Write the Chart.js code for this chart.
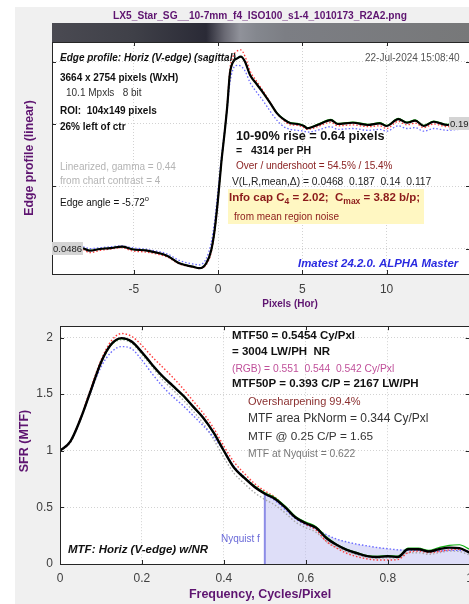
<!DOCTYPE html>
<html>
<head>
<meta charset="utf-8">
<script src="https://cdn.jsdelivr.net/npm/chart.js@4.4.1/dist/chart.umd.min.js"></script>
<style>
  html, body { margin: 0; padding: 0; background: #fff; overflow: hidden; width: 469px; height: 604px; }
  #fig { position: absolute; left: 15px; top: 7px; width: 470px; height: 600px; background: #f0f0f0; }
  .wrap { position: absolute; left: 0; }
</style>
</head>
<body>
<div id="fig"></div>
<div class="wrap" style="top:0"><canvas id="edgeChart" width="480" height="312"></canvas></div>
<div class="wrap" style="top:312px"><canvas id="mtfChart" width="480" height="292"></canvas></div>
<script>
// ---- Edge profile (top panel), pixels vs linear signal
const edgeX = [-8.0, -7.6, -7.0, -6.4, -5.7, -5.1, -4.2, -3.0, -2.3, -1.5, -1.1, -0.7, -0.4, -0.2, 0.0, 0.2, 0.4, 0.55, 0.7, 0.9,
  1.15, 1.35, 1.6, 1.9, 2.3, 2.7, 3.1, 3.5, 3.9, 4.3, 4.7, 5.1, 5.3, 5.9, 6.7, 7.1, 8.0, 8.9, 9.6, 10.0,
  10.7, 11.2, 11.7, 12.2, 12.8, 13.6, 14.3, 15.0];
const edgeBlack = [0.0494, 0.0467, 0.0486, 0.0495, 0.0512, 0.0483, 0.0467, 0.0409, 0.0328, 0.0290, 0.0273, 0.0328, 0.0475, 0.0697, 0.1040, 0.1450, 0.1790, 0.2070, 0.2420, 0.2560,
  0.2597, 0.2615, 0.2560, 0.2412, 0.2310, 0.2210, 0.2100, 0.1988, 0.1920, 0.1878, 0.1870, 0.1848, 0.1822, 0.1859, 0.1914, 0.1870, 0.1884, 0.1859, 0.1878, 0.1848,
  0.1925, 0.1884, 0.1907, 0.1848, 0.1895, 0.1859, 0.1880, 0.1870];
const edgeRed = [0.0480, 0.0445, 0.0470, 0.0485, 0.0500, 0.0465, 0.0450, 0.0395, 0.0320, 0.0285, 0.0270, 0.0310, 0.0450, 0.0670, 0.1020, 0.1440, 0.1800, 0.2100, 0.2470, 0.2620,
  0.2680, 0.2690, 0.2620, 0.2460, 0.2340, 0.2230, 0.2110, 0.1990, 0.1910, 0.1860, 0.1855, 0.1830, 0.1810, 0.1840, 0.1890, 0.1850, 0.1860, 0.1840, 0.1850, 0.1820,
  0.1900, 0.1860, 0.1880, 0.1830, 0.1870, 0.1840, 0.1860, 0.1850];
const edgeGreen = [0.0496, 0.0470, 0.0488, 0.0497, 0.0513, 0.0485, 0.0468, 0.0410, 0.0330, 0.0291, 0.0272, 0.0326, 0.0472, 0.0694, 0.1035, 0.1448, 0.1792, 0.2075, 0.2425, 0.2565,
  0.2600, 0.2617, 0.2562, 0.2415, 0.2313, 0.2213, 0.2102, 0.1992, 0.1925, 0.1885, 0.1876, 0.1854, 0.1828, 0.1866, 0.1922, 0.1876, 0.1892, 0.1866, 0.1885, 0.1854,
  0.1933, 0.1891, 0.1915, 0.1855, 0.1902, 0.1866, 0.1886, 0.1876];
const edgeBlue = [0.0510, 0.0490, 0.0500, 0.0510, 0.0520, 0.0500, 0.0480, 0.0430, 0.0360, 0.0320, 0.0310, 0.0380, 0.0560, 0.0800, 0.1140, 0.1500, 0.1810, 0.2050, 0.2320, 0.2480,
  0.2520, 0.2510, 0.2460, 0.2330, 0.2220, 0.2120, 0.2010, 0.1910, 0.1840, 0.1810, 0.1800, 0.1790, 0.1780, 0.1800, 0.1840, 0.1810, 0.1820, 0.1800, 0.1810, 0.1790,
  0.1850, 0.1820, 0.1830, 0.1790, 0.1820, 0.1800, 0.1810, 0.1810];
const edgeGridY = [0.0486, 0.1178, 0.1870, 0.2562];
const edgeLeftLevel = '0.0486';
const edgeRightLevel = '0.19';

// ---- MTF (bottom panel), cycles/pixel vs SFR
const freq = [0, 0.025, 0.05, 0.075, 0.1, 0.125, 0.15, 0.175, 0.2, 0.225, 0.25, 0.275, 0.3, 0.325, 0.35, 0.375, 0.4, 0.425, 0.45, 0.475,
  0.5, 0.525, 0.55, 0.575, 0.6, 0.625, 0.65, 0.675, 0.7, 0.725, 0.75, 0.775, 0.8, 0.825, 0.85, 0.875, 0.9, 0.925, 0.95, 0.975, 1.0];
const mtfBlack = [1.00, 1.08, 1.28, 1.53, 1.78, 1.94, 1.995, 1.965, 1.87, 1.76, 1.66, 1.575, 1.49, 1.39, 1.29, 1.16, 1.00, 0.85, 0.76, 0.68,
  0.62, 0.575, 0.50, 0.41, 0.36, 0.32, 0.23, 0.17, 0.125, 0.095, 0.07, 0.062, 0.068, 0.063, 0.13, 0.13, 0.11, 0.13, 0.145, 0.14, 0.10];
const mtfRed = [1.00, 1.08, 1.29, 1.55, 1.80, 1.97, 2.035, 2.01, 1.93, 1.83, 1.74, 1.65, 1.55, 1.44, 1.33, 1.20, 1.04, 0.90, 0.80, 0.71,
  0.645, 0.59, 0.50, 0.41, 0.35, 0.30, 0.20, 0.14, 0.095, 0.065, 0.045, 0.035, 0.035, 0.04, 0.10, 0.115, 0.10, 0.11, 0.125, 0.13, 0.11];
const mtfGreen = [1.00, 1.08, 1.28, 1.53, 1.78, 1.935, 1.99, 1.96, 1.865, 1.755, 1.655, 1.57, 1.485, 1.385, 1.285, 1.155, 0.995, 0.85, 0.765, 0.69,
  0.63, 0.585, 0.51, 0.42, 0.37, 0.33, 0.24, 0.175, 0.13, 0.10, 0.075, 0.068, 0.075, 0.07, 0.14, 0.14, 0.12, 0.145, 0.165, 0.17, 0.13];
const mtfBlue = [1.00, 1.08, 1.28, 1.52, 1.74, 1.87, 1.92, 1.90, 1.80, 1.68, 1.57, 1.48, 1.40, 1.31, 1.22, 1.12, 1.00, 0.86, 0.77, 0.69,
  0.62, 0.56, 0.48, 0.40, 0.345, 0.31, 0.26, 0.22, 0.195, 0.175, 0.16, 0.145, 0.135, 0.125, 0.12, 0.12, 0.115, 0.115, 0.12, 0.12, 0.115];
const mtfGray = [1.00, 1.07, 1.27, 1.52, 1.77, 1.93, 1.98, 1.95, 1.85, 1.74, 1.63, 1.54, 1.45, 1.35, 1.24, 1.10, 0.94, 0.80, 0.71, 0.63,
  0.57, 0.52, 0.45, 0.37, 0.32, 0.28, 0.20, 0.15, 0.11, 0.08, 0.06, 0.05, 0.055, 0.05, 0.10, 0.10, 0.085, 0.10, 0.115, 0.11, 0.08];
const nyquistF = 0.5;
const mtfAtNyquist = 0.622;

(function () {
  const FONT = '"Liberation Sans", Arial, Helvetica, sans-serif';
  const PURPLE = '#5e1470';
  const font = (size, weight, style) => `${style || 'normal'} ${weight || 'normal'} ${size}px ${FONT}`;
  const pts = (xs, ys) => xs.map((x, i) => ({ x, y: ys[i] }));
  const plainNum = (v) => String(+Number(v).toFixed(3));

  function text(ctx, s, x, y, fnt, color, align) {
    ctx.font = fnt; ctx.fillStyle = color; ctx.textAlign = align || 'left'; ctx.textBaseline = 'middle';
    ctx.fillText(s, x, y);
  }
  // pieces of text on one baseline (for sub/superscripts)
  function runs(ctx, x, y, parts) {
    ctx.textAlign = 'left'; ctx.textBaseline = 'middle';
    parts.forEach(([s, fnt, color, dy]) => {
      ctx.font = fnt; ctx.fillStyle = color;
      ctx.fillText(s, x, y + (dy || 0));
      x += ctx.measureText(s).width;
    });
  }
  function vtext(ctx, s, x, y, fnt, color) {
    ctx.save(); ctx.translate(x, y); ctx.rotate(-Math.PI / 2);
    text(ctx, s, 0, 0, fnt, color, 'center'); ctx.restore();
  }

  // white plot box, then inward ticks + frame afterwards (matlab look)
  const framePlugin = {
    id: 'frame',
    beforeDraw(chart) {
      const { ctx, chartArea: a } = chart;
      ctx.save(); ctx.fillStyle = '#fff';
      ctx.fillRect(a.left, a.top, a.right - a.left, a.bottom - a.top);
      ctx.restore();
    },
    afterDatasetsDraw(chart) {
      const { ctx, chartArea: a, scales } = chart;
      ctx.save();
      ctx.strokeStyle = '#262626'; ctx.lineWidth = 1;
      ctx.beginPath();
      scales.x.ticks.forEach((t) => {
        const p = Math.round(scales.x.getPixelForValue(t.value)) + 0.5;
        ctx.moveTo(p, a.bottom); ctx.lineTo(p, a.bottom - 4);
        ctx.moveTo(p, a.top); ctx.lineTo(p, a.top + 4);
      });
      scales.y.ticks.forEach((t) => {
        const p = Math.round(scales.y.getPixelForValue(t.value)) + 0.5;
        ctx.moveTo(a.left, p); ctx.lineTo(a.left + 4, p);
        ctx.moveTo(a.right, p); ctx.lineTo(a.right - 4, p);
      });
      ctx.stroke();
      ctx.strokeRect(Math.round(a.left) + 0.5, Math.round(a.top) + 0.5, Math.round(a.right - a.left), Math.round(a.bottom - a.top));
      ctx.restore();
    }
  };

  const gridOpts = { color: '#d2d2d2', drawTicks: false, lineWidth: 1 };
  const borderOpts = { display: true, color: '#262626', dash: [1, 2] };

  // ---------------- top: edge profile
  const edgeText = {
    id: 'edgeText',
    afterDraw(chart) {
      const { ctx, chartArea: a, scales } = chart;
      ctx.save();
      // file name
      text(ctx, 'LX5_Star_SG__10-7mm_f4_ISO100_s1-4_1010173_R2A2.png', 260, 16, font(10.2, 'bold'), PURPLE, 'center');
      // edge image strip above the plot
      const sx = scales.x;
      const g = ctx.createLinearGradient(a.left, 0, a.right, 0);
      const stop = (v, c) => g.addColorStop(Math.min(1, Math.max(0, (sx.getPixelForValue(v) - a.left) / (a.right - a.left))), c);
      stop(-9.85, '#4a4a52'); stop(-5, '#3f4048'); stop(-0.7, '#2a2a36'); stop(0.4, '#6a6a74');
      stop(1.3, '#90929a'); stop(2.3, '#84878e'); stop(4, '#7c7e84'); stop(14.95, '#777879');
      ctx.fillStyle = g;
      ctx.fillRect(a.left, 23, a.right - a.left, a.top - 23);

      text(ctx, 'Edge profile: Horiz (V-edge) (sagittal)', 60, 58, font(10, 'bold', 'italic'), '#111');
      text(ctx, '22-Jul-2024 15:08:40', 365, 58, font(10), '#555');
      text(ctx, '3664 x 2754 pixels (WxH)', 60, 78, font(10, 'bold'), '#111');
      text(ctx, '10.1 Mpxls   8 bit', 66, 93, font(10), '#333');
      text(ctx, 'ROI:  104x149 pixels', 60, 111, font(10, 'bold'), '#111');
      text(ctx, '26% left of ctr', 60, 127, font(10, 'bold'), '#111');
      text(ctx, 'Linearized, gamma = 0.44', 60, 167, font(10), '#b4b4b4');
      text(ctx, 'from chart contrast = 4', 60, 181, font(10), '#b4b4b4');
      runs(ctx, 60, 203, [['Edge angle = -5.72', font(10), '#111'], ['o', font(7.5), '#111', -4]]);

      // level markers
      const yl = scales.y.getPixelForValue(edgeBlack[2]);
      ctx.fillStyle = '#d4d4d4'; ctx.fillRect(a.left, yl - 7, 31, 13);
      text(ctx, edgeLeftLevel, a.left + 1, yl, font(9.5), '#222');
      const yr = scales.y.getPixelForValue(0.187);
      ctx.fillStyle = '#d4d4d4'; ctx.fillRect(449, yr - 7, 25, 13);
      text(ctx, edgeRightLevel, 450, yr, font(9.5), '#222');

      text(ctx, '10-90% rise = 0.64 pixels', 236, 136, font(12.7, 'bold'), '#111');
      text(ctx, '=   4314 per PH', 236, 151, font(10.5, 'bold'), '#111');
      text(ctx, 'Over / undershoot = 54.5% / 15.4%', 236, 166, font(10), '#8b2323');
      text(ctx, 'V(L,R,mean,\u0394) = 0.0468  0.187  0.14  0.117', 232, 182, font(10.3), '#222');
      ctx.fillStyle = '#fff7c2'; ctx.fillRect(228, 189, 196, 35);
      const ic = font(11.5, 'bold'), sub = font(8.5, 'bold'), red = '#8b1a1a';
      runs(ctx, 229, 198, [['Info cap C', ic, red], ['4', sub, red, 4], [' = 2.02;  C', ic, red], ['max', sub, red, 4], [' = 3.82 b/p;', ic, red]]);
      text(ctx, 'from mean region noise', 234, 217, font(10), red);
      text(ctx, 'Imatest 24.2.0. ALPHA Master', 298, 264, font(11.4, 'bold', 'italic'), '#2a2ae0');

      text(ctx, 'Pixels (Hor)', 290, 304, font(10, 'bold'), PURPLE, 'center');
      vtext(ctx, 'Edge profile (linear)', 30, 158, font(12.3, 'bold'), PURPLE);
      ctx.restore();
    }
  };

  new Chart(document.getElementById('edgeChart'), {
    type: 'line',
    data: {
      datasets: [
        { data: pts(edgeX, edgeBlack), borderColor: '#000', borderWidth: 2.2 },
        { data: pts(edgeX, edgeGreen), borderColor: '#10b010', borderWidth: 1.2 },
        { data: pts(edgeX, edgeRed), borderColor: '#ff3a3a', borderWidth: 1.3, borderDash: [1.5, 2] },
        { data: pts(edgeX, edgeBlue), borderColor: '#6a6aff', borderWidth: 1.3, borderDash: [1.5, 2] }
      ]
    },
    options: {
      responsive: false,
      animation: false,
      layout: { padding: { top: 42, right: 10, bottom: 0, left: 0 } },
      elements: { point: { radius: 0 }, line: { cubicInterpolationMode: 'monotone' } },
      plugins: { legend: { display: false }, tooltip: { enabled: false } },
      events: [],
      scales: {
        x: {
          type: 'linear', min: -9.85, max: 14.95,
          grid: gridOpts, border: borderOpts,
          ticks: { stepSize: 5, includeBounds: false, padding: 8, color: '#404040', font: { family: FONT, size: 12 }, callback: plainNum },
          afterFit: (s) => { s.height = 38; }
        },
        y: {
          type: 'linear', min: 0.0209, max: 0.2778,
          grid: gridOpts, border: borderOpts,
          ticks: { display: false },
          afterBuildTicks: (s) => { s.ticks = edgeGridY.map((v) => ({ value: v })); },
          afterFit: (s) => { s.width = 52; }
        }
      }
    },
    plugins: [framePlugin, edgeText]
  });

  // ---------------- bottom: MTF
  const mtfText = {
    id: 'mtfText',
    afterDraw(chart) {
      const { ctx } = chart;
      const Y = (y) => y - 312; // page coords -> canvas coords
      ctx.save();
      text(ctx, 'MTF50 = 0.5454 Cy/Pxl', 232, Y(336), font(11.5, 'bold'), '#111');
      text(ctx, '= 3004 LW/PH  NR', 232, Y(352), font(11.5, 'bold'), '#111');
      text(ctx, '(RGB) = 0.551  0.544  0.542 Cy/Pxl', 232, Y(369), font(10.3), '#c0509a');
      text(ctx, 'MTF50P = 0.393 C/P = 2167 LW/PH', 232, Y(384), font(11.5, 'bold'), '#111');
      text(ctx, 'Oversharpening 99.4%', 248, Y(402), font(11), '#8b3030');
      text(ctx, 'MTF area PkNorm = 0.344 Cy/Pxl', 248, Y(419), font(12), '#333');
      text(ctx, 'MTF @ 0.25 C/P = 1.65', 248, Y(437), font(11.8), '#333');
      text(ctx, 'MTF at Nyquist = 0.622', 248, Y(454), font(10.3), '#777');
      text(ctx, 'Nyquist f', 221, Y(539), font(10), '#6a6ad8');
      text(ctx, 'MTF: Horiz (V-edge) w/NR', 68, Y(550), font(11.5, 'bold', 'italic'), '#111');
      text(ctx, 'Frequency, Cycles/Pixel', 260, Y(595), font(12.5, 'bold'), PURPLE, 'center');
      vtext(ctx, 'SFR (MTF)', 25, Y(441), font(12.5, 'bold'), PURPLE);
      ctx.restore();
    }
  };

  const shade = freq.map((x, i) => ({ x, y: Math.max(mtfBlack[i], mtfBlue[i]) })).filter((p) => p.x >= nyquistF);

  new Chart(document.getElementById('mtfChart'), {
    type: 'line',
    data: {
      datasets: [
        { data: pts(freq, mtfBlack), borderColor: '#000', borderWidth: 2.4 },
        { data: pts(freq, mtfGreen), borderColor: '#10b010', borderWidth: 1.2 },
        { data: pts(freq, mtfRed), borderColor: '#ff3a3a', borderWidth: 1.4, borderDash: [1.5, 2] },
        { data: pts(freq, mtfBlue), borderColor: '#6a6aff', borderWidth: 1.4, borderDash: [1.5, 2] },
        { data: pts(freq, mtfGray), borderColor: '#a8a8a8', borderWidth: 1.4, borderDash: [1.5, 2] },
        { data: [{ x: nyquistF, y: 0 }, { x: nyquistF, y: mtfAtNyquist }], borderColor: '#8c8ce6', borderWidth: 2, cubicInterpolationMode: 'default', tension: 0 },
        { data: shade, borderWidth: 0, borderColor: 'rgba(0,0,0,0)', backgroundColor: 'rgba(190,190,242,0.5)', fill: 'origin' }
      ]
    },
    options: {
      responsive: false,
      animation: false,
      layout: { padding: { top: 6, right: 8, bottom: 0, left: 0 } },
      elements: { point: { radius: 0 }, line: { cubicInterpolationMode: 'monotone' } },
      plugins: { legend: { display: false }, tooltip: { enabled: false } },
      events: [],
      scales: {
        x: {
          type: 'linear', min: 0, max: 1,
          grid: gridOpts, border: borderOpts,
          ticks: { stepSize: 0.2, padding: 7, color: '#404040', font: { family: FONT, size: 12 }, callback: plainNum },
          afterFit: (s) => { s.height = 40; }
        },
        y: {
          type: 'linear', min: 0, max: 2.1,
          grid: gridOpts, border: borderOpts,
          ticks: { stepSize: 0.5, includeBounds: false, padding: 7, color: '#404040', font: { family: FONT, size: 12 }, callback: plainNum },
          afterFit: (s) => { s.width = 60; }
        }
      }
    },
    plugins: [framePlugin, mtfText]
  });
})();
</script>
</body>
</html>
